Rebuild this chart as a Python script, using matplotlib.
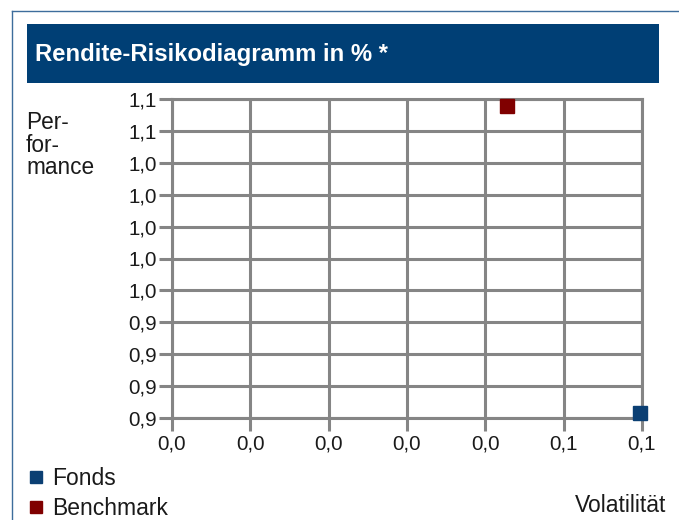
import matplotlib
matplotlib.use("Agg")
import matplotlib.pyplot as plt
from matplotlib.patches import Rectangle
from matplotlib.lines import Line2D

plt.rcParams['font.family'] = ['Liberation Sans', 'DejaVu Sans']

# ---- data ----
series_names = ["Fonds", "Benchmark"]
series_colors = ["#0b3f73", "#800000"]
volatility = [0.0597, 0.0428]
performance = [0.9034, 1.0956]
x_ticks = [0.00, 0.01, 0.02, 0.03, 0.04, 0.05, 0.06]
x_tick_labels = ["0,0", "0,0", "0,0", "0,0", "0,0", "0,1", "0,1"]
y_ticks = [0.90, 0.92, 0.94, 0.96, 0.98, 1.00, 1.02, 1.04, 1.06, 1.08, 1.10]
y_tick_labels = ["0,9", "0,9", "0,9", "0,9", "1,0", "1,0", "1,0", "1,0", "1,0", "1,1", "1,1"]
title = "Rendite-Risikodiagramm in % *"

W, H = 679, 520
fig = plt.figure(figsize=(W / 100, H / 100), dpi=100)

def fx(px):
    return px / W

def fy(py):
    return 1 - py / H

# outer frame
frame_c = "#3d6d9c"
fig.add_artist(Line2D([fx(12), fx(12)], [fy(11), fy(520)], color=frame_c, lw=1.0))
fig.add_artist(Line2D([fx(12), fx(679)], [fy(11), fy(11)], color=frame_c, lw=1.0))

# title bar
fig.add_artist(Rectangle((fx(27), fy(83)), fx(659) - fx(27), fy(24) - fy(83),
                         transform=fig.transFigure, facecolor="#003f75", edgecolor="none"))
fig.text(fx(35), fy(55), title, color="white", fontsize=17.2, fontweight="bold",
         ha="left", va="center")

# axes
left, right, top, bottom = 172, 642, 99, 418
ax = fig.add_axes([fx(left), fy(bottom), (right - left) / W, (bottom - top) / H])
grid_c = "#858585"
ax.set_xlim(x_ticks[0], x_ticks[-1])
ax.set_ylim(y_ticks[0], y_ticks[-1])
ax.set_xticks(x_ticks)
ax.set_xticklabels(x_tick_labels)
ax.set_yticks(y_ticks)
ax.set_yticklabels(y_tick_labels)
ax.grid(True, color=grid_c, lw=2.2)
for s in ax.spines.values():
    s.set_color(grid_c)
    s.set_linewidth(2.2)
ax.tick_params(axis='both', direction='out', length=9.5, width=2.2, color=grid_c,
               labelsize=14.8, labelcolor="#1a1a1a")
ax.tick_params(axis='y', pad=1.5)
ax.tick_params(axis='x', pad=2.5)
ax.set_axisbelow(True)

for name, c, xv, yv in zip(series_names, series_colors, volatility, performance):
    ax.plot([xv], [yv], marker='s', ls='none', color=c, markersize=10, clip_on=False,
            zorder=5, label=name)

# axis titles
fig.text(fx(26), fy(145), "Per-\nfor-\nmance", fontsize=16.3, ha="left", va="center",
         linespacing=0.95, color="#1a1a1a")
fig.text(fx(666), fy(505), "Volatilität", fontsize=16.5, ha="right", va="center",
         color="#1a1a1a")

# legend
handles = [Line2D([], [], marker='s', ls='none', color=c, markersize=8) for c in series_colors]
fig.legend(handles, series_names, loc="upper left", bbox_to_anchor=(fx(27), fy(467)),
           frameon=False, fontsize=16.5, handlelength=0.8, handletextpad=0.3,
           labelspacing=0.3, borderpad=0, borderaxespad=0, labelcolor="#1a1a1a")

fig.savefig("out.png", dpi=100, facecolor="white")
